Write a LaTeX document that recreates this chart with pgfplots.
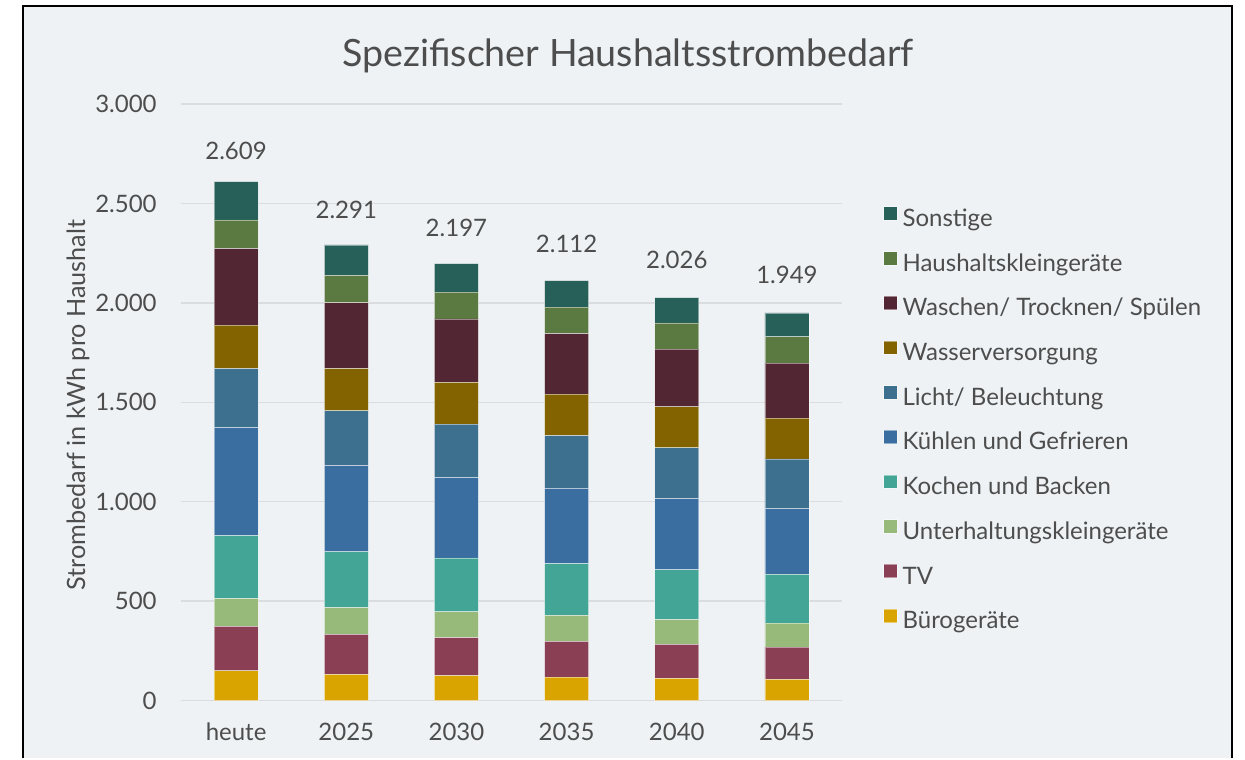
\documentclass[border=0pt]{standalone}
\usepackage{pgfplots}
\pgfplotsset{compat=1.18}
\usepackage{pgfplotstable}
\usepackage{fontspec}
\setmainfont{Lato}
\definecolor{bgc}{HTML}{EEF2F5}
\definecolor{txt}{HTML}{4D4D4D}
\definecolor{gridc}{HTML}{DADCDF}
\definecolor{cBuero}{HTML}{D9A300}
\definecolor{cTV}{HTML}{8B3F55}
\definecolor{cUnterh}{HTML}{97BA7A}
\definecolor{cKochen}{HTML}{43A596}
\definecolor{cKuehlen}{HTML}{3B6EA0}
\definecolor{cLicht}{HTML}{3D6F8F}
\definecolor{cWasser}{HTML}{826300}
\definecolor{cWaschen}{HTML}{522632}
\definecolor{cKlein}{HTML}{5A7A42}
\definecolor{cSonst}{HTML}{276058}

% kWh pro Haushalt, Segmente von unten nach oben
\pgfplotstableread{
x buero tv unterh kochen kuehlen licht wasser waschen klein sonst total
0 149 224 139 317 543 297 219 385 144 192 2609
1 132 201 134 281 432 277 212 331 138 153 2291
2 125 191 130 271 404 269 210 319 135 143 2197
3 118 179 131 261 378 265 209 304 134 133 2112
4 111 171 125 250 357 257 206 290 132 127 2026
5 106 162 121 245 330 251 205 277 132 120 1949
}\strom

\begin{document}
\begin{tikzpicture}
\fill[white] (0pt,0pt) rectangle (622.5pt,-379pt);
\fill[bgc] (11.5pt,-3pt) rectangle (616pt,-379pt);
\draw[black, line width=1pt] (11.5pt,-379pt) -- (11.5pt,-3pt) -- (616pt,-3pt) -- (616pt,-379pt);
\node[anchor=base, font=\fontsize{18.8}{22}\selectfont, text=txt] at (314pt,-33.5pt) {Spezifischer Haushaltsstrombedarf};
\begin{axis}[
  at={(90.5pt,-350.25pt)}, anchor=south west,
  scale only axis, width=330.5pt, height=298.25pt,
  ybar stacked, bar width=22pt,
  xmin=-0.5, xmax=5.5, ymin=0, ymax=3000,
  xtick={0,...,5}, xticklabels={heute,2025,2030,2035,2040,2045},
  ytick={0,500,...,3000}, scaled y ticks=false,
  axis line style={draw=none}, major tick length=0pt,
  ymajorgrids, major grid style={gridc, line width=0.75pt},
  tick label style={font=\fontsize{12}{14.4}\selectfont, text=txt},
  yticklabel style={anchor=east, inner sep=0pt, xshift=-12pt,
    /pgf/number format/1000 sep={.}, /pgf/number format/assume math mode=true},
  xticklabel style={anchor=base, inner sep=0pt, yshift=-20pt},
  ylabel={Strombedarf in kWh pro Haushalt},
  ylabel style={at={(axis description cs:-0.145,0.495)}, anchor=base,
    font=\fontsize{12.6}{15}\selectfont, text=txt},
  every axis plot/.append style={draw=white, draw opacity=0.45, line width=0.4pt},
  reverse legend,
  legend image code/.code={\fill[#1] (0pt,0pt) rectangle (6.7pt,6.7pt);},
  legend style={at={(1.062,0.829)}, anchor=north west, draw=none, fill=none,
    inner sep=0pt, row sep=9.85pt, font=\fontsize{12}{14.4}\selectfont,
    nodes={inner sep=0pt, text height=8.7pt, text depth=2.5pt, text=txt},
    /tikz/every odd column/.append style={column sep=2.5pt},
    cells={anchor=west}},
]
\addplot[fill=cBuero] table[x=x, y=buero] {\strom};
\addlegendentry{Bürogeräte}
\addplot[fill=cTV] table[x=x, y=tv] {\strom};
\addlegendentry{TV}
\addplot[fill=cUnterh] table[x=x, y=unterh] {\strom};
\addlegendentry{Unterhaltungskleingeräte}
\addplot[fill=cKochen] table[x=x, y=kochen] {\strom};
\addlegendentry{Kochen und Backen}
\addplot[fill=cKuehlen] table[x=x, y=kuehlen] {\strom};
\addlegendentry{Kühlen und Gefrieren}
\addplot[fill=cLicht] table[x=x, y=licht] {\strom};
\addlegendentry{Licht/ Beleuchtung}
\addplot[fill=cWasser] table[x=x, y=wasser] {\strom};
\addlegendentry{Wasserversorgung}
\addplot[fill=cWaschen] table[x=x, y=waschen] {\strom};
\addlegendentry{Waschen/ Trocknen/ Spülen}
\addplot[fill=cKlein] table[x=x, y=klein] {\strom};
\addlegendentry{Haushaltskleingeräte}
\addplot[fill=cSonst, point meta=explicit, nodes near coords,
  every node near coord/.append style={anchor=base, inner sep=0pt,
    yshift=20.8pt, text=txt, draw=none, font=\fontsize{12}{14.4}\selectfont,
    /pgf/number format/1000 sep={.}, /pgf/number format/assume math mode=true}]
  table[x=x, y=sonst, meta=total] {\strom};
\addlegendentry{Sonstige}
\end{axis}
\end{tikzpicture}
\end{document}
